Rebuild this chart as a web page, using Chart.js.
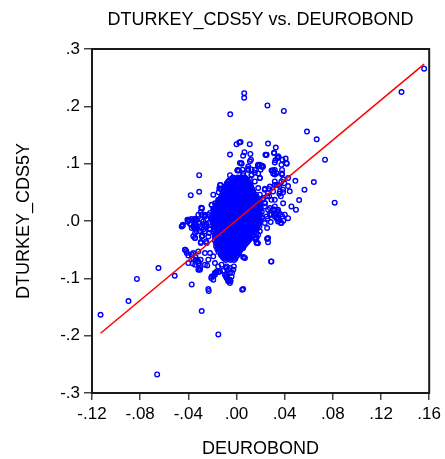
<!DOCTYPE html>
<html>
<head>
<meta charset="utf-8">
<title>DTURKEY_CDS5Y vs. DEUROBOND</title>
<script src="https://cdn.jsdelivr.net/npm/chart.js@4.4.1/dist/chart.umd.min.js"></script>
<style>
  html, body { margin: 0; padding: 0; background: #fff; }
  canvas { display: block; }
</style>
</head>
<body>
<canvas id="scatterChart" width="445" height="459"></canvas>
<script>
const chartTitle = 'DTURKEY_CDS5Y vs. DEUROBOND';
const xTitle = 'DEUROBOND';
const yTitle = 'DTURKEY_CDS5Y';

// axis ranges and tick steps
const xRange = [-0.12, 0.16];
const xStep = 0.04;
const yRange = [-0.3, 0.3];
const yStep = 0.1;

// fitted line: DTURKEY_CDS5Y = a + b * DEUROBOND
const fitIntercept = 0.0015;
const fitSlope = 1.747;

// isolated observations far from the centre  [DEUROBOND, DTURKEY_CDS5Y]
const tailPoints = [
  [0.1558, 0.2656], [0.137, 0.225], [0.0257, 0.2016], [0.0393, 0.192], [0.0585, 0.156],
  [0.0666, 0.1424], [0.0735, 0.107], [0.0815, 0.032], [0.0642, 0.068], [0.0489, 0.070],
  [0.0564, 0.0546], [0.052, 0.0366], [0.0494, 0.0197], [0.0287, -0.0705], [0.0257, -0.031],
  [0.0064, 0.223], [0.0064, 0.215], [-0.0052, 0.186],
  [-0.1129, -0.1635], [-0.0897, -0.1396], [-0.0827, -0.101], [-0.0648, -0.082], [-0.0513, -0.0955],
  [-0.0659, -0.2676], [-0.0289, -0.157], [-0.0151, -0.1978], [-0.0372, -0.1106], [-0.0231, -0.122],
  [0.0047, -0.1199], [-0.0447, -0.0082], [-0.038, 0.045], [-0.031, 0.051], [-0.031, 0.080],
  [-0.0293, 0.023]
];

// observations around the dense centre
const fringePoints = [
  [0, 0.134], [0.0023, 0.137], [0.0034, 0.138], [0.011, 0.134], [-0.0054, 0.116], [0.0066, 0.120],
  [0.0055, 0.114], [0.0115, 0.117], [0.012, 0.107], [0.004, 0.101], [0.001, 0.089], [0.005, 0.0895],
  [-0.0054, 0.080], [0.0097, 0.091],
  [0.0262, 0.135], [0.0326, 0.128], [0.0312, 0.119], [0.0246, 0.115], [0.0351, 0.111], [0.0381, 0.107],
  [0.0408, 0.109], [0.0417, 0.100], [0.0323, 0.106], [0.0213, 0.0965], [0.0177, 0.0965], [0.0301, 0.088],
  [0.0315, 0.082], [0.0378, 0.089], [0.0378, 0.083],
  [0.0387, 0.0725], [0.0397, 0.066], [0.0428, 0.061], [0.0357, 0.061], [0.0332, 0.063], [0.0387, 0.050],
  [0.0356, 0.0476], [0.0266, 0.0563], [0.0236, 0.0563], [0.0271, 0.043], [0.0222, 0.0375], [0.0236, 0.031],
  [0.0312, 0.020],
  [0.0007, 0.088], [0.0056, 0.0835], [0.0126, 0.090], [0.018, 0.0965], [0.02, 0.0895], [0.0216, 0.0942],
  [0.0291, 0.088], [0.0318, 0.102], [0.0332, 0.0835], [0.025, 0.1156], [0.0312, 0.1186], [0.034, 0.110],
  [0.024, 0.1156], [0.0345, 0.113], [0.0042, 0.1], [0.018, 0.098], [0.022, 0.095], [0.0097, 0.089],
  [0.0152, 0.084], [0.0304, 0.088], [0.0318, 0.081], [0.0378, 0.081],
  [-0.0132, 0.063], [-0.0143, 0.057], [-0.0148, 0.050], [-0.0074, 0.045], [-0.014, 0.0375], [-0.0207, 0.028],
  [0.0315, 0.018], [0.0277, 0.012], [0.032, 0.011], [0.0353, 0.014], [0.0367, 0.0115], [0.0381, 0.008],
  [0.0348, 0.005], [0.0389, 0.0005], [0.0367, -0.0035], [0.0257, 0.004], [0.0284, -0.0018],
  [0.0166, -0.0286], [0.016, -0.0326], [0.0177, -0.039], [0.011, -0.027], [0.0063, -0.0635],
  [0.0166, -0.0297], [0.0174, -0.0384],
  [-0.0392, 0.0017], [-0.0405, -0.0012], [-0.0375, 0.0035], [-0.0342, 0.001], [-0.0378, -0.0059],
  [-0.0348, -0.0122], [-0.0359, -0.0268], [-0.0345, -0.0296], [-0.0331, -0.018], [-0.031, -0.018],
  [-0.0296, -0.0366], [-0.0282, -0.0256], [-0.0287, 0.022], [-0.0262, 0.0098],
  [-0.0251, -0.0052], [-0.0223, -0.0134], [-0.0229, -0.021], [-0.0248, -0.0384], [-0.0262, -0.056],
  [-0.0243, -0.0775], [-0.021, -0.0996], [-0.0193, -0.0961], [-0.0177, -0.0908], [-0.0152, -0.089],
  [-0.0088, -0.0967], [-0.0072, -0.1025], [-0.0049, -0.1047], [-0.0036, -0.0902], [-0.0022, -0.0792],
  [-0.0086, -0.082], [-0.0055, -0.082],
  [-0.0417, -0.0523], [-0.04, -0.06], [-0.037, -0.0583], [-0.034, -0.063], [-0.0364, -0.074],
  [-0.0304, -0.085], [-0.0315, -0.0746], [-0.0298, -0.0676], [-0.0343, -0.069],
  [-0.0137, 0.063], [-0.0132, 0.056], [-0.0115, 0.049], [-0.0193, 0.046], [-0.0069, 0.044],
  [-0.0013, 0.042], [0.0022, 0.072], [0.0084, 0.072], [0.0097, 0.063], [0.0125, 0.081], [0.0152, 0.069],
  [0.0194, 0.075], [0.018, 0.0576], [0.0194, 0.046], [0.0235, 0.0546], [0.0254, 0.043], [0.0277, 0.060],
  [0.0304, 0.0516], [0.0318, 0.069], [0.029, 0.037], [0.0235, 0.0255], [0.0262, 0.0197], [0.0318, 0.0255],
  [0.0345, 0.0197], [0.0249, 0.008], [0.0166, 0.005], [-0.0206, 0.0284], [-0.0289, 0.0227], [-0.0165, 0.014],
  [-0.0206, 0.0035], [-0.0262, 0.008], [-0.0344, 0.0035], [-0.0137, 0.037], [-0.0096, 0.031], [-0.006, 0.0244],
  [-0.0027, 0.0167],
  [-0.0123, 0.0546], [-0.0069, 0.043], [-0.0152, 0.037], [-0.0179, 0.031], [-0.0234, 0.011],
  [0.0318, 0.063], [0.036, 0.0516], [0.0368, 0.043], [0.0387, 0.031], [0.0318, 0.037], [0.0277, 0.0227],
  [0.0345, 0.0167],
  [-0.0317, 0.011], [-0.033, 0.0023], [-0.0267, 0.008], [-0.022, 0.014], [-0.0165, 0.011], [-0.0129, 0.014],
  [-0.0303, -0.018], [-0.0262, -0.0094], [-0.0234, -0.0035], [-0.022, -0.015], [-0.0289, -0.027],
  [-0.033, -0.0675], [-0.0311, -0.0733], [-0.0317, -0.085], [-0.0262, -0.0762], [-0.0234, -0.0675],
  [-0.022, -0.0558], [-0.0193, -0.0617], [-0.0179, -0.0733], [-0.0152, -0.0792], [-0.0124, -0.0762],
  [-0.0082, -0.0792], [-0.0069, -0.085], [-0.0055, -0.0907], [-0.0096, -0.0937], [-0.0137, -0.088],
  [-0.0179, -0.0907], [-0.0082, -0.0994], [-0.0069, -0.105], [-0.0055, -0.108],
  [0.0042, -0.0356], [0.0055, -0.047], [0.007, -0.0645], [0.0152, -0.0297], [0.0166, -0.0384],
  [0.018, -0.024], [0.0262, -0.0297], [0.029, -0.0705], [0.0318, 0.008], [0.0345, 0.0023], [0.0373, -0.0035],
  [0.0055, -0.1186], [-0.0234, -0.1186], [0.0262, -0.037], [0.0254, -0.031], [0.0055, -0.063],
  [-0.0427, -0.05], [-0.0413, -0.0558], [-0.04, -0.0733], [-0.0344, -0.0762], [-0.0317, -0.0705],
  [-0.0303, -0.082], [-0.0359, -0.0663], [-0.0372, -0.0588],
  [-0.0206, -0.0966], [-0.0179, -0.0937], [-0.0165, -0.088], [-0.011, -0.0862], [-0.0082, -0.0937],
  [-0.0055, -0.1024], [-0.0041, -0.0966], [-0.0027, -0.085], [-0.0193, -0.1024],
  [-0.0446, -0.0065], [-0.04, 0.0023], [-0.0386, -0.0047], [-0.0359, 0.001], [-0.0344, -0.0035],
  [-0.0336, -0.0094], [-0.0372, -0.0122], [-0.0303, -0.0094], [-0.0276, -0.015], [-0.0344, -0.021],
  [-0.0262, -0.0065], [-0.0289, 0.0023],
  [-0.0193, 0.021], [-0.0137, 0.031], [-0.0165, 0.0255], [-0.0123, 0.0244], [-0.0289, 0.011], [-0.0262, 0.011],
  [0.0277, 0.011], [0.0318, 0.014], [0.0332, 0.005], [0.0345, -0.0007],
  [0.0235, -0.0035], [0.0254, -0.0122], [0.0194, -0.018], [0.0166, -0.021], [0.0152, -0.0094],
  [-0.0297, 0.0157], [-0.0165, 0.0197], [-0.011, 0.0255], [-0.0179, 0.014], [-0.0152, 0.011],
  [-0.0214, 0.005], [-0.0193, -0.0007],
  [-0.0455, -0.0094], [-0.0408, 0.0023], [-0.0364, 0.0005], [-0.0344, 0.004], [-0.0359, -0.0094],
  [-0.0336, -0.0065], [-0.0317, -0.0035], [-0.0289, -0.0122], [-0.0276, -0.0007], [-0.0262, -0.018],
  [-0.0344, -0.0297], [-0.0297, -0.0384], [-0.0253, -0.0356], [-0.0234, -0.027], [-0.0427, -0.05],
  [-0.0359, -0.0558], [-0.0317, -0.053],
  [0.0028, 0.101], [0.0111, 0.104], [0.0208, 0.095], [0.0194, 0.098], [0.0097, 0.095], [0.0152, 0.089],
  [0.002, 0.088], [0.0055, 0.080], [0.0125, 0.080], [0.018, 0.083], [0.0194, 0.075], [0.0111, 0.072],
  [0.0318, 0.089], [0.0304, 0.083], [0.0373, 0.098], [0.0415, 0.101], [0.0345, 0.063], [0.0373, 0.069],
  [0.0428, 0.075], [0.0387, 0.0546], [0.0442, 0.0517], [0.0235, 0.031], [0.0221, 0.040], [0.0304, 0.020],
  [0.0345, 0.0168], [0.0401, 0.011], [0.029, 0.011], [0.0456, 0.0255], [0.0428, 0.005], [0.0345, 0.005],
  [0.0262, 0.049], [0.0166, 0.0429]
];

// solid centre of the cloud, one row per DTURKEY_CDS5Y level: [y, x1, x2, ...]
const coreRows = [
  [0.076, -0.003, 0.001, 0.004, 0.007],
  [0.0735, -0.004, -0.001, 0.002, 0.005, 0.008],
  [0.071, -0.006, -0.002, 0.001, 0.003, 0.006, 0.009],
  [0.0685, -0.007, -0.004, -0.001, 0.002, 0.004, 0.007, 0.010],
  [0.066, -0.008, -0.005, -0.002, 0.000, 0.003, 0.005, 0.008, 0.011],
  [0.0635, -0.008, -0.005, -0.002, 0.001, 0.003, 0.006, 0.008, 0.011],
  [0.061, -0.009, -0.006, -0.003, -0.001, 0.002, 0.004, 0.007, 0.009, 0.012],
  [0.0585, -0.010, -0.007, -0.004, -0.001, 0.001, 0.004, 0.006, 0.009, 0.012],
  [0.056, -0.010, -0.007, -0.005, -0.002, 0.000, 0.003, 0.005, 0.008, 0.010, 0.013],
  [0.0535, -0.010, -0.008, -0.005, -0.003, 0.000, 0.002, 0.005, 0.007, 0.010, 0.012],
  [0.051, -0.011, -0.008, -0.006, -0.003, -0.001, 0.002, 0.004, 0.006, 0.009, 0.011, 0.014],
  [0.0485, -0.011, -0.009, -0.006, -0.004, -0.001, 0.001, 0.004, 0.006, 0.009, 0.011, 0.014],
  [0.046, -0.012, -0.009, -0.007, -0.004, -0.002, 0.001, 0.003, 0.005, 0.008, 0.010, 0.013, 0.016],
  [0.0435, -0.012, -0.010, -0.007, -0.005, -0.002, 0.000, 0.003, 0.005, 0.008, 0.010, 0.013, 0.015],
  [0.041, -0.013, -0.010, -0.008, -0.005, -0.003, 0.000, 0.002, 0.004, 0.007, 0.009, 0.012, 0.014, 0.017],
  [0.0385, -0.013, -0.011, -0.008, -0.006, -0.003, -0.001, 0.002, 0.004, 0.007, 0.009, 0.012, 0.014, 0.017],
  [0.036, -0.014, -0.011, -0.009, -0.006, -0.004, -0.001, 0.001, 0.003, 0.006, 0.008, 0.011, 0.013, 0.016, 0.018],
  [0.0335, -0.015, -0.012, -0.010, -0.007, -0.005, -0.002, 0.000, 0.003, 0.005, 0.008, 0.010, 0.013, 0.015, 0.018],
  [0.031, -0.016, -0.013, -0.010, -0.008, -0.005, -0.003, 0.000, 0.002, 0.005, 0.007, 0.010, 0.012, 0.015, 0.017, 0.019],
  [0.0285, -0.016, -0.014, -0.011, -0.009, -0.006, -0.004, -0.001, 0.001, 0.004, 0.006, 0.009, 0.011, 0.014, 0.016, 0.019],
  [0.026, -0.017, -0.015, -0.012, -0.009, -0.007, -0.004, -0.002, 0.001, 0.003, 0.006, 0.008, 0.011, 0.013, 0.016, 0.018, 0.020],
  [0.0235, -0.018, -0.015, -0.013, -0.010, -0.008, -0.005, -0.003, 0.000, 0.002, 0.005, 0.007, 0.010, 0.012, 0.015, 0.017, 0.019],
  [0.021, -0.019, -0.016, -0.013, -0.011, -0.008, -0.006, -0.003, -0.001, 0.002, 0.004, 0.007, 0.009, 0.012, 0.014, 0.017, 0.020],
  [0.0185, -0.018, -0.016, -0.013, -0.011, -0.008, -0.006, -0.003, -0.001, 0.002, 0.004, 0.007, 0.009, 0.012, 0.014, 0.017, 0.019],
  [0.016, -0.019, -0.017, -0.014, -0.012, -0.009, -0.007, -0.004, -0.002, 0.001, 0.003, 0.006, 0.008, 0.011, 0.013, 0.016, 0.018, 0.021],
  [0.0135, -0.019, -0.016, -0.014, -0.011, -0.009, -0.006, -0.004, -0.001, 0.001, 0.004, 0.006, 0.009, 0.011, 0.014, 0.016, 0.019],
  [0.011, -0.020, -0.017, -0.015, -0.012, -0.010, -0.007, -0.005, -0.002, 0.000, 0.002, 0.005, 0.007, 0.010, 0.012, 0.015, 0.017, 0.020],
  [0.0085, -0.019, -0.017, -0.014, -0.012, -0.009, -0.006, -0.004, -0.001, 0.002, 0.004, 0.007, 0.009, 0.012, 0.014, 0.017, 0.019],
  [0.006, -0.020, -0.018, -0.015, -0.013, -0.010, -0.008, -0.005, -0.003, 0.000, 0.003, 0.005, 0.008, 0.010, 0.013, 0.015, 0.018, 0.021],
  [0.0035, -0.019, -0.016, -0.014, -0.011, -0.009, -0.006, -0.003, -0.001, 0.002, 0.004, 0.007, 0.009, 0.012, 0.014, 0.017, 0.019],
  [0.001, -0.020, -0.017, -0.015, -0.012, -0.010, -0.007, -0.004, -0.002, 0.001, 0.003, 0.006, 0.008, 0.011, 0.013, 0.016, 0.018, 0.020],
  [-0.0015, -0.018, -0.016, -0.013, -0.011, -0.008, -0.005, -0.003, 0.000, 0.003, 0.005, 0.008, 0.010, 0.012, 0.015, 0.017],
  [-0.004, -0.019, -0.017, -0.014, -0.012, -0.009, -0.007, -0.004, -0.001, 0.001, 0.004, 0.006, 0.009, 0.011, 0.014, 0.016, 0.019],
  [-0.0065, -0.018, -0.015, -0.013, -0.010, -0.008, -0.005, -0.002, 0.001, 0.003, 0.006, 0.008, 0.010, 0.013, 0.015, 0.018],
  [-0.009, -0.019, -0.016, -0.014, -0.011, -0.009, -0.006, -0.003, -0.001, 0.002, 0.004, 0.007, 0.009, 0.012, 0.014, 0.017, 0.019],
  [-0.0115, -0.018, -0.015, -0.012, -0.010, -0.007, -0.004, -0.002, 0.001, 0.003, 0.006, 0.008, 0.011, 0.013, 0.016],
  [-0.014, -0.019, -0.016, -0.013, -0.011, -0.008, -0.006, -0.003, 0.000, 0.002, 0.005, 0.007, 0.010, 0.012, 0.015, 0.017],
  [-0.0165, -0.018, -0.015, -0.012, -0.009, -0.007, -0.004, -0.001, 0.001, 0.004, 0.006, 0.009, 0.011, 0.014],
  [-0.019, -0.019, -0.016, -0.013, -0.010, -0.008, -0.005, -0.002, 0.000, 0.003, 0.005, 0.008, 0.010, 0.013, 0.015],
  [-0.0215, -0.017, -0.014, -0.012, -0.009, -0.006, -0.003, -0.001, 0.002, 0.004, 0.007, 0.009, 0.012],
  [-0.024, -0.018, -0.016, -0.013, -0.010, -0.008, -0.005, -0.002, 0.001, 0.003, 0.006, 0.008, 0.011, 0.014],
  [-0.0265, -0.017, -0.014, -0.011, -0.009, -0.006, -0.003, 0.000, 0.002, 0.005, 0.007, 0.010],
  [-0.029, -0.018, -0.015, -0.012, -0.010, -0.007, -0.004, -0.002, 0.001, 0.003, 0.006, 0.009, 0.012],
  [-0.0315, -0.016, -0.014, -0.011, -0.008, -0.005, -0.003, 0.000, 0.002, 0.005, 0.008, 0.011],
  [-0.034, -0.018, -0.015, -0.012, -0.009, -0.007, -0.004, -0.001, 0.001, 0.004, 0.007, 0.010],
  [-0.0365, -0.016, -0.013, -0.010, -0.008, -0.005, -0.002, 0.000, 0.003, 0.006, 0.009],
  [-0.039, -0.017, -0.015, -0.012, -0.009, -0.006, -0.003, -0.001, 0.002, 0.005, 0.008],
  [-0.0415, -0.016, -0.013, -0.010, -0.007, -0.004, -0.002, 0.001, 0.004, 0.007],
  [-0.044, -0.017, -0.014, -0.011, -0.008, -0.006, -0.003, 0.000, 0.003, 0.006],
  [-0.0465, -0.015, -0.012, -0.009, -0.006, -0.004, -0.001, 0.002, 0.005],
  [-0.049, -0.016, -0.013, -0.010, -0.008, -0.005, -0.002, 0.001, 0.004],
  [-0.0515, -0.014, -0.011, -0.008, -0.006, -0.003, 0.000, 0.003],
  [-0.054, -0.015, -0.012, -0.009, -0.007, -0.004, -0.001, 0.002],
  [-0.0565, -0.013, -0.010, -0.007, -0.004, -0.001, 0.002],
  [-0.059, -0.013, -0.011, -0.008, -0.005, -0.002, 0.001],
  [-0.0615, -0.012, -0.009, -0.006, -0.003, 0.000],
  [-0.064, -0.011, -0.008, -0.005, -0.002],
  [-0.066, -0.010, -0.007, -0.004, -0.001],
  [-0.068, -0.009, -0.005, -0.002]
];

// build the point list for Chart.js
const observations = [];
tailPoints.concat(fringePoints).forEach(function (p) {
    observations.push({ x: p[0], y: p[1] });
});
coreRows.forEach(function (row) {
    for (let i = 1; i < row.length; i++) {
        observations.push({ x: row[i], y: row[0] });
    }
});

// the fitted line runs between the smallest and largest DEUROBOND values
const xs = observations.map(p => p.x);
const xMin = Math.min.apply(null, xs);
const xMax = Math.max.apply(null, xs);
const fitLine = [
    { x: xMin, y: fitIntercept + fitSlope * xMin },
    { x: xMax, y: fitIntercept + fitSlope * xMax }
];

// ".3", "-.12" style labels (no leading zero)
function shortNumber(v, digits) {
    let s = Math.abs(v).toFixed(digits).replace(/^0/, '');
    return (v < -1e-9 ? '-' : '') + s;
}

const FONT = '"Liberation Sans", Arial, sans-serif';

// box round the plot area plus the title and axis titles
const framePlugin = {
    id: 'frame',
    afterDraw(chart) {
        const ctx = chart.ctx;
        const a = chart.chartArea;
        ctx.save();
        ctx.strokeStyle = '#1a1a1a';
        ctx.lineWidth = 2;
        ctx.strokeRect(a.left, a.top, a.right - a.left, a.bottom - a.top);

        ctx.fillStyle = '#000';
        ctx.font = '18px ' + FONT;
        ctx.textAlign = 'center';
        ctx.textBaseline = 'alphabetic';
        const cx = (a.left + a.right) / 2;
        ctx.fillText(chartTitle, cx, 25);
        ctx.fillText(xTitle, cx, 454);

        ctx.translate(29, (a.top + a.bottom) / 2);
        ctx.rotate(-Math.PI / 2);
        ctx.fillText(yTitle, 0, 0);
        ctx.restore();
    }
};

const ctx = document.getElementById('scatterChart').getContext('2d');

new Chart(ctx, {
    type: 'scatter',
    data: {
        datasets: [
            {
                label: 'Regression',
                data: fitLine,
                showLine: true,
                borderColor: '#ff0000',
                borderWidth: 1.5,
                pointRadius: 0,
                fill: false,
                order: 0
            },
            {
                label: 'DTURKEY_CDS5Y',
                data: observations,
                pointStyle: 'circle',
                pointRadius: 2.3,
                pointBorderWidth: 1.4,
                pointBorderColor: '#0000ff',
                pointBackgroundColor: 'rgba(0,0,0,0)',
                order: 1
            }
        ]
    },
    options: {
        responsive: false,
        animation: false,
        layout: { padding: { top: 49, right: 15, bottom: 0, left: 0 } },
        plugins: {
            legend: { display: false },
            title: { display: false },
            tooltip: { enabled: false }
        },
        scales: {
            x: {
                type: 'linear',
                min: xRange[0],
                max: xRange[1],
                afterFit: s => { s.height = 66; },
                border: { display: false },
                grid: { drawOnChartArea: false, tickLength: 7, color: '#444', lineWidth: 1.5 },
                ticks: {
                    stepSize: xStep,
                    autoSkip: false,
                    maxRotation: 0,
                    padding: 4,
                    color: '#000',
                    font: { family: FONT, size: 17 },
                    callback: v => shortNumber(v, 2)
                }
            },
            y: {
                type: 'linear',
                min: yRange[0],
                max: yRange[1],
                afterFit: s => { s.width = 92; },
                border: { display: false },
                grid: { drawOnChartArea: false, tickLength: 8, color: '#444', lineWidth: 1.5 },
                ticks: {
                    stepSize: yStep,
                    padding: 4,
                    color: '#000',
                    font: { family: FONT, size: 17 },
                    callback: v => shortNumber(v, 1)
                }
            }
        }
    },
    plugins: [framePlugin]
});
</script>
</body>
</html>
